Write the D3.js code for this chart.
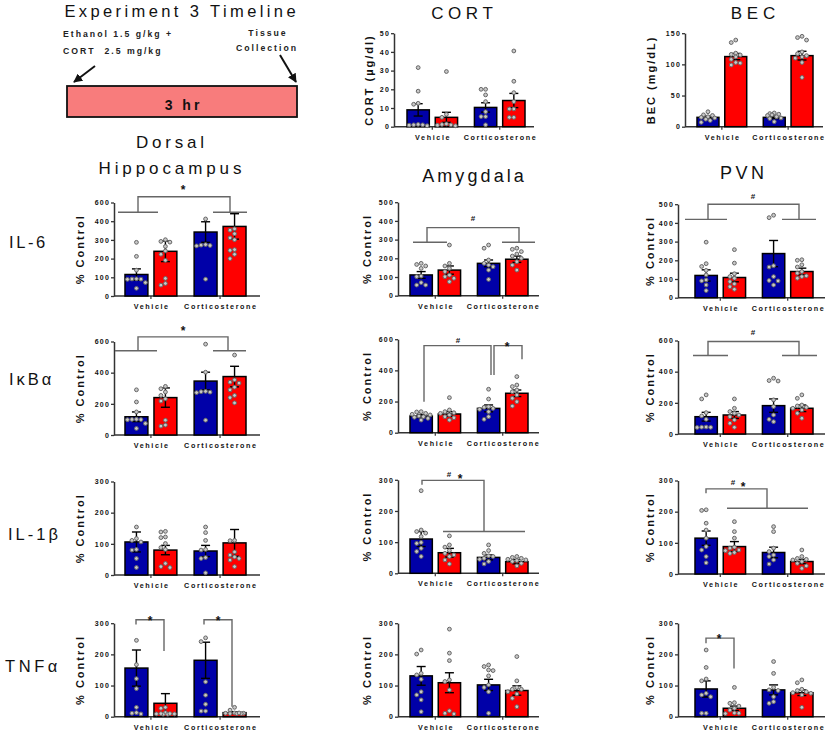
<!DOCTYPE html>
<html><head><meta charset="utf-8">
<script src="https://cdn.jsdelivr.net/npm/d3@7"></script>
<style>body{margin:0;background:#fff}svg{display:block}text{font-family:"Liberation Sans",Arial,sans-serif}</style>
</head><body><svg id="c" width="830" height="736"></svg>
<script>
// ---------- categories ----------
const groups = ["Vehicle", "Corticosterone"];
const series = ["Water", "Ethanol"];
const seriesColors = ["#0000a8", "#ff0000"];

// ---------- tick values / labels ----------
const cortTicks = [0, 10, 20, 30, 40, 50];
const becTicks = [0, 50, 100, 150];
const il6DHTicks = [0, 100, 200, 300, 400, 500];
const il6DHTickLabels = ["0", "100", "200", "300", "400", "600"];
const il6Ticks = [0, 100, 200, 300, 400, 500];
const ikbaTicks = [0, 200, 400, 600];
const cytoTicks = [0, 100, 200, 300];

// ---------- data: order = [Vehicle/Water, Vehicle/Ethanol, Cort/Water, Cort/Ethanol] ----------
const cortMeans = [9, 5, 10.3, 14];
const cortSem = [3.3, 2.7, 2.5, 3.8];
const cortPoints = [[31.6, 19, 12, 12.5, 1, 0.5, 1, 0.8, 1.2], [29.5, 6.6, 5, 1, 0.8, 0.5, 1.2, 1.5], [20, 20, 17, 13.4, 8, 5.4, 5.4, 1], [40.5, 24.3, 18.2, 13.4, 9.5, 9.5, 5, 5]];

const becMeans = [15, 112.5, 15, 114];
const becSem = [2, 5, 2, 7];
const becPoints = [[24, 19, 18, 16, 15, 14, 12, 7, 10], [139, 135, 118, 116, 115, 112, 108, 103, 99, 102], [22, 21, 20, 19, 16, 13, 8, 14, 18], [145, 143, 139, 120, 117, 114, 112, 110, 103, 79]];

const il6DHMeans = [115, 239, 342, 372];
const il6DHSem = [30, 55, 55, 68];
const il6DHPoints = [[287, 212, 138, 92, 90, 91, 89, 72, 41], [301, 292, 288, 265, 241, 223, 191, 94, 67, 58], [412, 272, 270, 268, 275, 90], [359, 352, 333, 311, 301, 248, 244, 223, 200]];

const il6AmyMeans = [111, 137, 173, 195];
const il6AmySem = [18, 22, 18, 17];
const il6AmyPoints = [[173, 167, 159, 146, 105, 102, 70, 57, 57], [271, 173, 159, 146, 129, 110, 102, 93, 75], [271, 254, 191, 173, 164, 155, 137, 87], [254, 248, 236, 223, 212, 200, 182, 164, 137]];

const il6PvnMeans = [119, 108, 236, 140];
const il6PvnSem = [30, 23, 70, 18];
const il6PvnPoints = [[297, 182, 167, 146, 122, 95, 90, 68, 38], [257, 185, 128, 113, 104, 86, 74, 59, 45], [441, 428, 171, 164, 113, 92, 68, 90], [203, 200, 176, 164, 140, 131, 117, 113, 104]];

const ikbaDHMeans = [117, 240, 346, 375];
const ikbaDHSem = [31, 62, 57, 66];
const ikbaDHPoints = [[290, 212, 148, 100, 98, 101, 99, 74, 42], [312, 297, 276, 254, 232, 218, 95, 64, 57], [583, 403, 280, 275, 272, 278, 95], [513, 354, 339, 333, 307, 290, 254, 240, 206]];

const ikbaAmyMeans = [107, 120, 156, 253];
const ikbaAmySem = [10, 15, 22, 21];
const ikbaAmyPoints = [[135, 133, 124, 118, 114, 107, 103, 99, 92, 81], [225, 146, 135, 128, 124, 114, 103, 96, 81], [279, 216, 167, 163, 156, 150, 135, 103, 86], [360, 306, 296, 274, 263, 242, 221, 199, 171]];

const ikbaPvnMeans = [111, 122, 182, 165];
const ikbaPvnSem = [28, 22, 43, 21];
const ikbaPvnPoints = [[251, 225, 137, 116, 94, 45, 43, 42, 44], [225, 165, 144, 133, 122, 111, 90, 69, 43], [358, 343, 340, 219, 176, 122, 94, 79], [251, 229, 186, 180, 171, 165, 154, 133, 101]];

const il1bDHMeans = [106, 80, 77, 103];
const il1bDHSem = [32, 15, 18, 43];
const il1bDHPoints = [[154, 117, 111, 106, 82, 80, 53, 24], [140, 138, 122, 120, 101, 88, 82, 37, 27, 24], [154, 136, 111, 82, 80, 56, 53, 7], [111, 110, 74, 64, 58, 53, 48, 27]];

const il1bAmyMeans = [110, 66, 51, 37.5];
const il1bAmySem = [24, 14, 8, 7];
const il1bAmyPoints = [[265, 139, 134, 129, 118, 99, 96, 80, 70, 54], [120, 91, 84, 73, 64, 59, 54, 43, 30], [91, 73, 64, 56, 54, 48, 45, 38, 30], [54, 51, 48, 45, 43, 41, 38, 32, 24]];

const il1bPvnMeans = [115, 88, 69, 40];
const il1bPvnSem = [23, 16, 17, 7];
const il1bPvnPoints = [[206, 204, 163, 141, 115, 88, 77, 56, 36], [168, 136, 115, 86, 83, 77, 75, 69, 66], [152, 136, 83, 72, 61, 56, 45, 32], [77, 56, 50, 47, 45, 40, 34, 26, 18]];

const tnfDHMeans = [156, 43, 181, 13];
const tnfDHSem = [58, 31, 58, 3];
const tnfDHPoints = [[245, 167, 122, 90, 30, 13, 11, 9], [30, 27, 13, 9, 8, 9, 10, 8, 10], [253, 241, 112, 69, 40, 18, 18], [30, 21, 12, 11, 10, 10, 11, 10, 12]];

const tnfAmyMeans = [131, 109, 102, 84];
const tnfAmySem = [30, 32, 18, 15];
const tnfAmyPoints = [[214, 201, 139, 134, 120, 80, 70, 54, 16], [281, 204, 180, 118, 113, 86, 19, 11, 9], [166, 161, 150, 148, 131, 102, 94, 80, 11], [193, 115, 94, 88, 88, 80, 73, 59, 32]];

const tnfPvnMeans = [89, 27, 86, 77];
const tnfPvnSem = [26, 7, 16, 9];
const tnfPvnPoints = [[214, 158, 121, 115, 75, 70, 64, 11, 11], [94, 45, 43, 34, 27, 21, 11, 10, 12], [177, 139, 94, 86, 84, 64, 48, 43], [118, 109, 88, 84, 80, 77, 75, 70, 30]];

// ---------- layout (positions only) ----------
const col = {
  DH: {x0: 114, w: 146, bars: [11, 132], tx: -26},
  Amy: {x0: 398, w: 141, bars: [12, 130], tx: -23},
  PVN: {x0: 678, w: 147, bars: [17, 135], tx: -20}
};
const H = 93.5;
const panels = [
  {x0: 394, w: 140, bars: [13, 131], tx: -17, y0: 126.7, max: 50, ticks: cortTicks, means: cortMeans, sem: cortSem, pts: cortPoints, yt: "CORT (\u00b5g/dl)", ann: {}},
  {x0: 685, w: 138, bars: [12, 128], tx: -26, y0: 126.7, max: 150, ticks: becTicks, means: becMeans, sem: becSem, pts: becPoints, yt: "BEC (mg/dL)", ann: {}},
  {...col.DH, y0: 296, max: 500, ticks: il6DHTicks, tl: il6DHTickLabels, means: il6DHMeans, sem: il6DHSem, pts: il6DHPoints,
    ann: {lines: [[[24,448],[24,531],[116,531],[116,448]], [[4,448],[44,448]], [[99,448],[133,448]]], texts: [["*", 69, 582]]}},
  {...col.Amy, y0: 295.7, max: 500, ticks: il6Ticks, means: il6AmyMeans, sem: il6AmySem, pts: il6AmyPoints,
    ann: {lines: [[[29,286],[29,364],[121,364],[121,286]], [[15,286],[49,286]], [[104,286],[137,286]]], texts: [["#", 75, 415]]}},
  {...col.PVN, y0: 297.7, max: 500, ticks: il6Ticks, means: il6PvnMeans, sem: il6PvnSem, pts: il6PvnPoints,
    ann: {lines: [[[30,419],[30,500],[121,500],[121,419]], [[7,419],[49,419]], [[104,419],[138,419]]], texts: [["#", 75, 545]]}},
  {...col.DH, y0: 435, max: 600, ticks: ikbaTicks, means: ikbaDHMeans, sem: ikbaDHSem, pts: ikbaDHPoints,
    ann: {lines: [[[24,541],[24,630],[114,630],[114,541]], [[1,541],[43,541]], [[99,541],[132,541]]], texts: [["*", 69, 685]]}},
  {...col.Amy, y0: 432.7, max: 600, ticks: ikbaTicks, means: ikbaAmyMeans, sem: ikbaAmySem, pts: ikbaAmyPoints,
    ann: {lines: [[[26,199],[26,559],[93,559],[93,371]], [[96,371],[96,559],[124,559],[124,471]]], texts: [["#", 60, 591], ["*", 109, 570]]}},
  {...col.PVN, y0: 434, max: 600, ticks: ikbaTicks, means: ikbaPvnMeans, sem: ikbaPvnSem, pts: ikbaPvnPoints,
    ann: {lines: [[[30,504],[30,594],[121,594],[121,504]], [[15,504],[50,504]], [[104,504],[139,504]]], texts: [["#", 75, 651]]}},
  {...col.DH, y0: 575, max: 300, ticks: cytoTicks, means: il1bDHMeans, sem: il1bDHSem, pts: il1bDHPoints, ann: {}},
  {...col.Amy, y0: 573.3, max: 300, ticks: cytoTicks, means: il1bAmyMeans, sem: il1bAmySem, pts: il1bAmyPoints,
    ann: {lines: [[[24,284],[24,298],[86,298],[86,134]], [[45,134],[127,134]]], texts: [["#", 51, 319], ["*", 62, 313]]}},
  {...col.PVN, y0: 574, max: 300, ticks: cytoTicks, means: il1bPvnMeans, sem: il1bPvnSem, pts: il1bPvnPoints,
    ann: {lines: [[[28,259],[28,273],[89,273],[89,211]], [[49,211],[130,211]]], texts: [["#", 55, 295], ["*", 65, 289]]}},
  {...col.DH, y0: 716.7, max: 300, ticks: cytoTicks, means: tnfDHMeans, sem: tnfDHSem, pts: tnfDHPoints,
    ann: {lines: [[[22,296],[22,311],[50,311],[50,211]], [[90,296],[90,311],[118,311],[118,32]]], texts: [["*", 36, 317], ["*", 104, 317]]}},
  {...col.Amy, y0: 716.7, max: 300, ticks: cytoTicks, means: tnfAmyMeans, sem: tnfAmySem, pts: tnfAmyPoints, ann: {}},
  {...col.PVN, y0: 716.7, max: 300, ticks: cytoTicks, means: tnfPvnMeans, sem: tnfPvnSem, pts: tnfPvnPoints,
    ann: {lines: [[[28,236],[28,252],[56,252],[56,155]]], texts: [["*", 41, 259]]}}
];

const svg = d3.select("#c");
const AX = "#333";

function swarm(vals, y, bw) {
  const order = vals.map((v, i) => ({v, i})).sort((a, b) => b.v - a.v);
  const placed = [], off = new Array(vals.length);
  const cands = [0, -4.5, 4.5, -9, 9, -2.25, 2.25, -6.75, 6.75].filter(c => Math.abs(c) <= bw / 2 - 2);
  order.forEach(o => {
    const py = y(o.v);
    let best = 0, bestD = -1;
    for (const c of cands) {
      const d = placed.length ? d3.min(placed, p => Math.hypot(p.x - c, p.y - py)) : 99;
      if (d >= 4.4) { best = c; bestD = d; break; }
      if (d > bestD) { bestD = d; best = c; }
    }
    placed.push({x: best, y: py});
    off[o.i] = best;
  });
  return off;
}

function drawPanel(p) {
  const g = svg.append("g");
  const y = d3.scaleLinear().domain([0, p.max]).range([p.y0, p.y0 - H]);
  const gx = d3.scaleBand().domain(groups).range([p.x0 + p.bars[0], p.x0 + p.bars[1]]).paddingInner(0.25);
  const sx = d3.scaleBand().domain(series).range([0, gx.bandwidth()]).paddingInner(0.21);
  const bw = sx.bandwidth();

  // y axis
  const ya = d3.axisLeft(y).tickValues(p.ticks).tickSize(3).tickSizeOuter(0).tickPadding(2)
    .tickFormat((d, i) => p.tl ? p.tl[i] : d);
  const yg = g.append("g").attr("transform", `translate(${p.x0},0)`).call(ya);
  yg.select(".domain").attr("stroke", AX).attr("stroke-width", 1.5);
  yg.selectAll(".tick line").attr("stroke", AX).attr("stroke-width", 1.3);
  yg.selectAll(".tick text").attr("font-size", 7).attr("font-weight", "bold").attr("letter-spacing", 1.2)
    .attr("fill", "#111").attr("font-family", "Liberation Sans, Arial").attr("dx", 1);

  // x axis
  g.append("line").attr("x1", p.x0).attr("x2", p.x0 + p.w).attr("y1", p.y0).attr("y2", p.y0)
    .attr("stroke", AX).attr("stroke-width", 1.5);
  const xa = d3.axisBottom(gx).tickSize(3).tickSizeOuter(0).tickPadding(5);
  const xg = g.append("g").attr("transform", `translate(0,${p.y0})`).call(xa);
  xg.select(".domain").remove();
  xg.selectAll(".tick line").attr("stroke", AX).attr("stroke-width", 1.2);
  xg.selectAll(".tick text").attr("font-size", 7.2).attr("font-weight", "bold").attr("letter-spacing", 1.6)
    .attr("fill", "#111").attr("font-family", "Liberation Sans, Arial").attr("dx", 0.8);

  // y title
  const yt = p.yt || "% Control";
  g.append("text").attr("transform", `translate(${p.x0 + p.tx - 4},${p.y0 - H / 2 + 1}) rotate(-90)`)
    .attr("text-anchor", "middle").attr("font-size", 11).attr("font-weight", "bold")
    .attr("letter-spacing", 2).attr("dx", 1).attr("fill", "#111").text(yt);

  // bars
  const items = [];
  groups.forEach((gr, gi) => series.forEach((s, si) => {
    const k = gi * 2 + si;
    items.push({gr, s, si, mean: p.means[k], sem: p.sem[k], pts: p.pts[k], x: gx(gr) + sx(s)});
  }));
  g.selectAll("rect.bar").data(items).join("rect").attr("class", "bar")
    .attr("x", d => d.x).attr("width", bw)
    .attr("y", d => y(d.mean)).attr("height", d => y(0) - y(d.mean))
    .attr("fill", d => seriesColors[d.si]).attr("stroke", "#000").attr("stroke-width", 1.5);

  // error bars
  items.forEach(d => {
    const cx = d.x + bw / 2, lo = Math.max(0, d.mean - d.sem), hi = d.mean + d.sem;
    const e = g.append("g").attr("stroke", "#000").attr("stroke-width", 1.4);
    e.append("line").attr("x1", cx).attr("x2", cx).attr("y1", y(lo)).attr("y2", y(hi));
    e.append("line").attr("x1", cx - 4.5).attr("x2", cx + 4.5).attr("y1", y(hi)).attr("y2", y(hi));
    e.append("line").attr("x1", cx - 4.5).attr("x2", cx + 4.5).attr("y1", y(lo)).attr("y2", y(lo));
  });

  // dots
  items.forEach(d => {
    const off = swarm(d.pts, y, bw);
    g.append("g").selectAll("circle").data(d.pts).join("circle")
      .attr("cx", (v, i) => d.x + bw / 2 + off[i]).attr("cy", v => y(v)).attr("r", 1.9)
      .attr("fill", "#c8c8c8").attr("stroke", "#666").attr("stroke-width", 1);
  });

  // annotations
  const line = d3.line().x(q => p.x0 + q[0]).y(q => y(q[1]));
  (p.ann.lines || []).forEach(l => g.append("path").attr("d", line(l)).attr("fill", "none")
    .attr("stroke", "#666").attr("stroke-width", 1.4));
  (p.ann.texts || []).forEach(t => {
    const star = t[0] === "*";
    g.append("text").attr("x", p.x0 + t[1]).attr("y", y(t[2]) + (star ? 6.9 : 2.8))
      .attr("text-anchor", "middle").attr("font-size", star ? 12 : 8).attr("font-weight", "bold")
      .attr("fill", "#111").text(t[0]);
  });
}
panels.forEach(drawPanel);

// ---------- headings ----------
function label(txt, x, y, size, ls, opts = {}) {
  return svg.append("text").attr("x", x).attr("y", y).attr("font-size", size)
    .attr("letter-spacing", ls).attr("fill", opts.fill || "#111")
    .attr("text-anchor", opts.anchor || "middle").attr("font-weight", opts.weight || "normal")
    .attr("dx", (opts.anchor || "middle") === "middle" ? ls / 2 : 0).text(txt);
}
label("Experiment 3 Timeline", 180, 17, 16.5, 3.4);
label("CORT", 462, 18.5, 17, 4.6);
label("BEC", 753, 18.5, 17, 4.8);
label("Dorsal", 170, 148, 17, 3.8);
label("Hippocampus", 170, 174, 17, 3.9);
label("Amygdala", 473, 182, 18, 3.1);
label("PVN", 742, 179, 18, 3.5);
label("IL-6", 9, 248, 16.5, 2.6, {anchor: "start"});
label("I\u03baB\u03b1", 9, 385, 16.5, 3, {anchor: "start"});
label("IL-1\u03b2", 8, 540, 16.5, 3, {anchor: "start"});
label("TNF\u03b1", 5, 672, 16.5, 3.6, {anchor: "start"});

// timeline
label("Ethanol 1.5 g/kg +", 63, 37, 8.7, 2, {anchor: "start", weight: "bold", fill: "#222"});
label("CORT\u00a0\u00a02.5 mg/kg", 63, 54, 8.7, 2, {anchor: "start", weight: "bold", fill: "#222"});
label("Tissue", 267, 36, 8.7, 2, {weight: "bold", fill: "#222"});
label("Collection", 266, 51, 8.7, 2, {weight: "bold", fill: "#222"});
svg.append("rect").attr("x", 67).attr("y", 86).attr("width", 230).attr("height", 31)
  .attr("fill", "#f87c7c").attr("stroke", "#111").attr("stroke-width", 1.8);
label("3 hr", 182, 110, 14, 3, {weight: "bold"});
const defs = svg.append("defs");
defs.append("marker").attr("id", "ah").attr("viewBox", "0 0 10 10").attr("refX", 9).attr("refY", 5)
  .attr("markerWidth", 4.5).attr("markerHeight", 4.5).attr("orient", "auto")
  .append("path").attr("d", "M0,0L10,5L0,10z").attr("fill", "#111");
svg.append("line").attr("x1", 95).attr("y1", 66).attr("x2", 74).attr("y2", 82)
  .attr("stroke", "#111").attr("stroke-width", 2).attr("marker-end", "url(#ah)");
svg.append("line").attr("x1", 280).attr("y1", 55).attr("x2", 296).attr("y2", 82)
  .attr("stroke", "#111").attr("stroke-width", 2).attr("marker-end", "url(#ah)");
</script></body></html>
